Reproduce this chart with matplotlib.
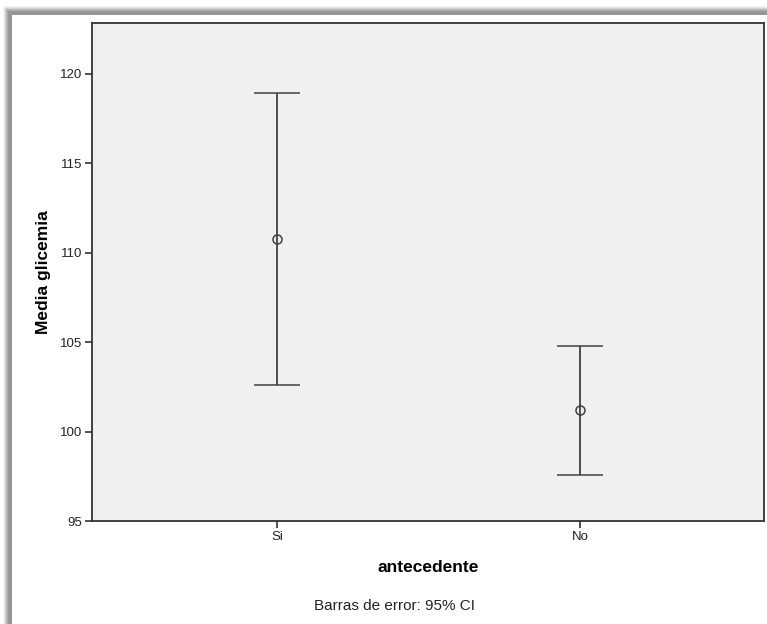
import matplotlib
matplotlib.use("Agg")
import matplotlib.pyplot as plt
from matplotlib.patches import Rectangle

categories = ["Si", "No"]
means = [110.75, 101.2]
ci_upper = [118.93, 104.8]
ci_lower = [102.6, 97.55]
yticks = [95, 100, 105, 110, 115, 120]

plt.rcParams['font.family'] = ['Liberation Sans', 'DejaVu Sans']

W, H = 767, 624
fig = plt.figure(figsize=(W / 100, H / 100), dpi=100)
fig.patch.set_facecolor("white")

# frame shadow (left and top gradient bars)
grays = ["#f4f4f4", "#e6e6e6", "#d2d2d2", "#bdbdbd", "#aaaaaa", "#9c9c9c", "#959595", "#939393", "#979797"]
for i, g in enumerate(grays):
    fig.patches.append(Rectangle(((3 + i) / W, 0), 1 / W, 1 - (6 + i) / H,
                                 transform=fig.transFigure, color=g, lw=0, zorder=0))
    fig.patches.append(Rectangle(((3 + i) / W, 1 - (7 + i) / H), 1 - (3 + i) / W, 1 / H,
                                 transform=fig.transFigure, color=g, lw=0, zorder=0))

ax = fig.add_axes([92 / W, 1 - 521 / H, (764 - 92) / W, (521 - 23) / H])
ax.set_facecolor("#f0f0f0")

x = list(range(len(categories)))
err_low = [m - l for m, l in zip(means, ci_lower)]
err_high = [u - m for m, u in zip(means, ci_upper)]
ax.errorbar(x, means, yerr=[err_low, err_high], fmt="o", color="#404040",
            mfc="none", mec="#404040", ms=6.5, mew=1.1, ecolor="#404040",
            elinewidth=1.3, capsize=16.5, capthick=1.3)

ax.set_xlim(-0.61, 1.607)
ax.set_ylim(95, 122.85)
ax.set_xticks(x)
ax.set_xticklabels(categories)
ax.set_yticks(yticks)
ax.set_yticklabels([str(t) for t in yticks])
ax.tick_params(axis="both", direction="out", length=5, width=1.2, color="#333333",
               labelsize=9.5, labelcolor="#222222", pad=2)
for s in ax.spines.values():
    s.set_color("#333333")
    s.set_linewidth(1.3)

ax.set_ylabel("Media glicemia", fontsize=12.5, fontweight="bold", labelpad=6.5)
fig.text(428 / W, 1 - 567 / H, "antecedente", fontsize=12.5, fontweight="bold",
         ha="center", va="center")
fig.text(394 / W, 1 - 606 / H, "Barras de error: 95% CI", fontsize=11,
         ha="center", va="center", color="#222222")

fig.savefig("out.png", dpi=100, facecolor="white")
